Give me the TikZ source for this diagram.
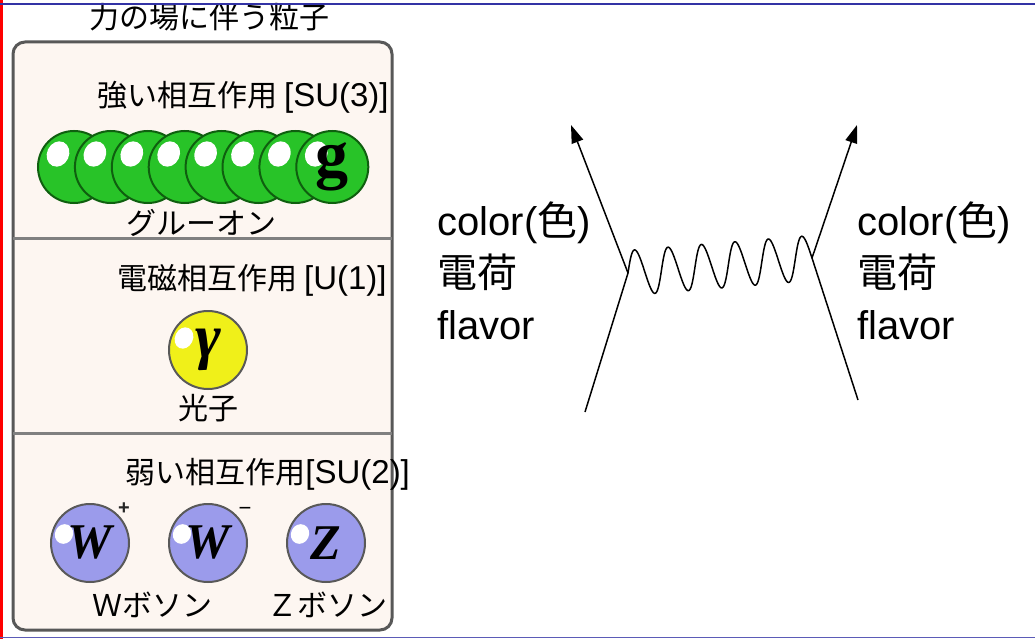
\documentclass[tikz,border=0pt]{standalone}
\usepackage{fontspec}
\setmainfont{Liberation Sans}
\newfontfamily\jpfont{Noto Sans CJK JP}
\newfontfamily\ballfont{Liberation Serif}
\usetikzlibrary{arrows.meta}

\definecolor{boxfill}{RGB}{253,246,241}
\definecolor{boxedge}{RGB}{88,88,88}
\definecolor{gluegreen}{RGB}{40,195,40}
\definecolor{gluedark}{RGB}{15,95,15}
\definecolor{photonyellow}{RGB}{240,240,25}
\definecolor{bosonblue}{RGB}{155,155,235}
\definecolor{slideblue}{RGB}{50,50,165}

% gauge group after each header
\newcommand{\gaugegrp}[1]{{\rmfamily\fontsize{33}{30}\selectfont #1}}

\begin{document}
\begin{tikzpicture}[x=1pt, y=-1pt, node distance=36.9pt, thick,
    glint/.style n args={4}{path picture={\fill[white] (path picture bounding box.center) ++(#1,#2)
        ellipse [x radius=#3, y radius=#4, rotate=-25];}},
    ball/.style = {draw, circle, inner sep=0pt, line width=2pt},
    gluon/.style = {ball, minimum size=72pt, fill=gluegreen, draw=gluedark, glint={-16pt}{13pt}{11pt}{13pt}},
    photon/.style = {ball, minimum size=78pt, fill=photonyellow, draw=gray!70!black, glint={-24pt}{12pt}{9pt}{11pt}},
    boson/.style = {ball, minimum size=78pt, fill=bosonblue, draw=gray!70!black, glint={-26pt}{9pt}{9pt}{10pt}},
    letter/.style = {font=\ballfont\bfseries\itshape\fontsize{50}{50}\selectfont},
    jplabel/.style = {font=\jpfont\fontsize{30}{30}\selectfont, inner sep=0pt},
    header/.style = {jplabel, anchor=west},
    charge/.style = {font=\fontsize{40}{52}\selectfont, align=left, anchor=north west, inner sep=0pt},
    quark/.style = {line width=1.5pt, -{Triangle[length=18pt,width=12pt]}},
    gluonline/.style = {line width=1.5pt}]

  \useasboundingbox[fill=white] (0,0) rectangle (1035,639);

  % title and the three force panels
  \node[jplabel] (title) at (209,17) {力の場に伴う粒子};
  \draw[boxedge, line width=3pt, fill=boxfill, rounded corners=12pt] (13,42) rectangle (392,630);
  \draw[gray, line width=3pt] (13,238) -- (392,238);
  \draw[gray, line width=3pt] (13,433) -- (392,433);

  % strong
  \node[header] (strong) at (97,97) {強い相互作用 \gaugegrp{[SU(3)]}};
  \node[gluon] (g1) at (74,167) {};
  \node[gluon] (g2) [right of=g1] {};
  \node[gluon] (g3) [right of=g2] {};
  \node[gluon] (g4) [right of=g3] {};
  \node[gluon] (g5) [right of=g4] {};
  \node[gluon] (g6) [right of=g5] {};
  \node[gluon] (g7) [right of=g6] {};
  \node[gluon, font=\ballfont\bfseries\fontsize{66}{66}\selectfont] (g8) [right of=g7] {g};
  \node[jplabel] (gluonname) at (201,223) {グルーオン};

  % electromagnetic
  \node[header] (em) at (117,280) {電磁相互作用 \gaugegrp{[U(1)]}};
  \node[photon, font=\ballfont\bfseries\itshape\fontsize{62}{62}\selectfont] (gamma) at (208,350) {γ};
  \node[jplabel, below of=gamma, node distance=58pt] (photonname) {光子};

  % weak
  \node[header] (weak) at (125,474) {弱い相互作用\gaugegrp{[SU(2)]}};
  \node[boson, letter] (wplus) at (90,543) {W};
  \node[boson, letter, right of=wplus, node distance=118pt] (wminus) {W};
  \node[boson, letter, right of=wminus, node distance=118pt] (zboson) {Z};
  \node[font=\bfseries\fontsize{20}{20}\selectfont, text=gray!30!black, inner sep=0pt] (plus) at (124,509) {+};
  \node[font=\fontsize{22}{22}\selectfont, inner sep=0pt] (minus) at (245,511) {−};
  \node[jplabel] (wname) at (152,605) {Ｗボソン};
  \node[jplabel] (zname) at (327,605) {Ｚボソン};

  % exchange diagram
  \coordinate (in1) at (585,412);
  \coordinate (v1) at (628,273);
  \coordinate (out1) at (571,125);
  \coordinate (in2) at (858,400);
  \coordinate (v2) at (812,258);
  \coordinate (out2) at (857,125);
  \draw[quark] (in1) -- (v1) -- (out1);
  \draw[quark] (in2) -- (v2) -- (out2);
  % wavy line v1 -> v2, 5.5 periods
  \begin{scope}[shift={(v1)}, rotate=4.66]
    \draw[gluonline] plot[domain=0:184.6, samples=220, smooth] (\x, {-22.5*sin(10.727*\x)});
  \end{scope}

  \node[charge] (left) at (437,201) {color({\jpfont 色})\\{\jpfont 電荷}\\flavor};
  \node[charge] (right) at (857,201) {color({\jpfont 色})\\{\jpfont 電荷}\\flavor};

  % slide frame
  \draw[red, line width=3pt] (1.5,0) -- (1.5,639);
  \draw[slideblue, line width=2.5pt] (0,4) -- (1035,4);
  \draw[slideblue!80!white, line width=1.5pt] (0,637.5) -- (1035,637.5);
\end{tikzpicture}
\end{document}
